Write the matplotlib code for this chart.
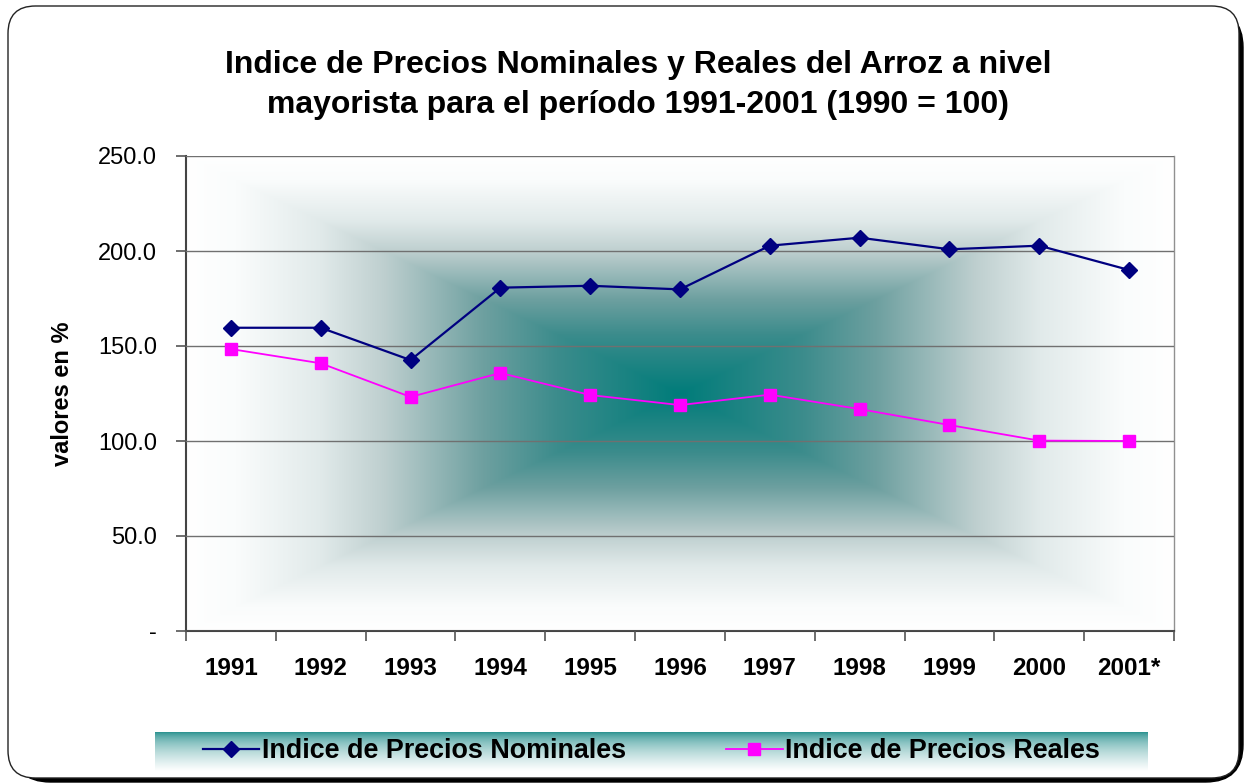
import numpy as np
import matplotlib
matplotlib.use("Agg")
import matplotlib.pyplot as plt
from matplotlib.patches import FancyBboxPatch

plt.rcParams['font.family'] = ['Liberation Sans', 'DejaVu Sans']

years = ['1991', '1992', '1993', '1994', '1995', '1996', '1997', '1998', '1999', '2000', '2001*']
nominal = [159.6, 159.6, 142.6, 180.7, 181.7, 179.8, 202.8, 207.0, 200.9, 202.8, 190.0]
real = [148.4, 140.9, 123.2, 135.8, 124.2, 118.9, 124.4, 116.8, 108.4, 100.2, 100.0]
yticks = [0, 50, 100, 150, 200, 250]
ytick_labels = ['-', '50.0', '100.0', '150.0', '200.0', '250.0']

W, H = 1248, 784
fig = plt.figure(figsize=(W / 100, H / 100), dpi=100)

def fx(px):
    return px / W

def fy(py):
    return 1 - py / H

# outer rounded frame with shadow
shadow = FancyBboxPatch((fx(13), fy(782)), fx(1243) - fx(13), fy(10) - fy(782),
                        boxstyle="round,pad=0,rounding_size=0.03",
                        transform=fig.transFigure, facecolor='black', edgecolor='black',
                        zorder=-3, mutation_aspect=W / H)
fig.patches.append(shadow)
frame = FancyBboxPatch((fx(8), fy(778)), fx(1239) - fx(8), fy(6) - fy(778),
                       boxstyle="round,pad=0,rounding_size=0.022",
                       transform=fig.transFigure, facecolor='white', edgecolor='#222222',
                       linewidth=1.0, zorder=-2, mutation_aspect=W / H)
fig.patches.append(frame)

teal = np.array([0, 124, 122]) / 255.0
white = np.array([1.0, 1.0, 1.0])

# colour stops of the centre gradient (distance from centre -> RGB)
stop_t = [0.0, 0.25, 0.4, 0.6, 0.73, 0.9, 1.0]
stop_rgb = np.array([[0, 124, 122], [60, 140, 140], [110, 160, 160], [190, 207, 207],
                     [225, 234, 234], [250, 252, 252], [255, 255, 255]]) / 255.0

# main axes
ax = fig.add_axes([fx(186), fy(631), fx(1174) - fx(186), fy(156) - fy(631)])
ax.set_facecolor('none')

n = 400
gx = np.linspace(-1, 1, n)
gy = np.linspace(-1, 1, n)
X, Y = np.meshgrid(gx, gy)
t = np.maximum(np.abs(X), np.abs(Y))
img = np.stack([np.interp(t, stop_t, stop_rgb[:, c]) for c in range(3)], axis=-1)
ax.imshow(img, extent=[0, 1, 0, 1], transform=ax.transAxes, aspect='auto', zorder=0,
          interpolation='bilinear')

x = np.arange(len(years))
ax.plot(x, nominal, color='#000080', linewidth=1.6, marker='D', markersize=8,
        markerfacecolor='#000080', markeredgecolor='#000080', label='Indice de Precios Nominales', zorder=3)
ax.plot(x, real, color='#FF00FF', linewidth=1.3, marker='s', markersize=8.5,
        markerfacecolor='#FF00FF', markeredgecolor='#FF00FF', label='Indice de Precios Reales', zorder=3)

ax.set_xlim(-0.5, len(years) - 0.5)
ax.set_ylim(0, 250)
ax.set_yticks(yticks)
ax.set_yticklabels(ytick_labels, fontsize=17)
ax.yaxis.grid(True, color='#707070', linewidth=1.0, zorder=1)
ax.set_axisbelow(False)
for gl in ax.get_ygridlines():
    gl.set_zorder(1)

ax.set_xticks(np.arange(-0.5, len(years), 1.0))
ax.set_xticklabels([])
ax.set_xticks(x, minor=True)
ax.set_xticklabels(years, minor=True, fontsize=17.5, fontweight='bold')
ax.tick_params(axis='x', which='minor', length=0, pad=19)
ax.tick_params(axis='x', which='major', length=7, width=1.2, color='#555555', direction='out')
ax.tick_params(axis='y', length=7, width=1.2, color='#555555', direction='out', pad=14)

ax.spines['top'].set_visible(False)
ax.spines['right'].set_color('#909090')
ax.spines['right'].set_linewidth(1.0)
for s_ in ['left', 'bottom']:
    ax.spines[s_].set_color('#444444')
    ax.spines[s_].set_linewidth(1.5)

ax.set_ylabel('valores en %', fontsize=17, fontweight='bold', labelpad=17)

fig.text(fx(638), fy(65), 'Indice de Precios Nominales y Reales del Arroz a nivel',
         ha='center', va='center', fontsize=23, fontweight='bold')
fig.text(fx(638), fy(105), 'mayorista para el período 1991-2001 (1990 = 100)',
         ha='center', va='center', fontsize=23, fontweight='bold')

# legend with vertical gradient
lax = fig.add_axes([fx(155), fy(771), fx(1148) - fx(155), fy(732) - fy(771)])
ly = np.linspace(0, 1, 200)[:, None]
lt = ly ** 0.5
limg = teal[None, None, :] * (1 - lt[..., None]) + white[None, None, :] * lt[..., None]
limg = np.repeat(limg, 4, axis=1)
lax.imshow(limg, extent=[0, 1, 0, 1], aspect='auto', interpolation='bilinear')
lax.set_axis_off()
handles, labels = ax.get_legend_handles_labels()
lax.legend(handles, labels, loc='center', ncol=2, frameon=False,
           prop={'weight': 'bold', 'size': 19.4}, handlelength=2.1, handletextpad=0.1,
           columnspacing=3.7, borderaxespad=0)

fig.savefig('out.png', dpi=100)
